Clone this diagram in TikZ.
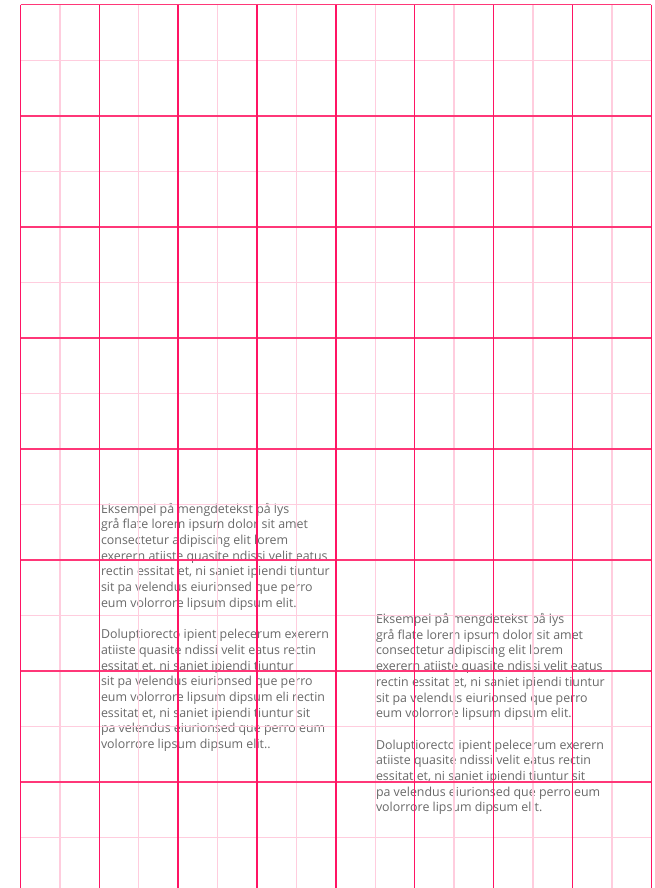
\documentclass[tikz,border=0pt]{standalone}
\usepackage{fontspec}
\setmainfont{Open Sans}
\definecolor{gridDark}{RGB}{255,20,100}
\definecolor{gridDarkH}{RGB}{255,55,120}
\definecolor{gridLight}{RGB}{255,205,222}
\definecolor{bodyGray}{RGB}{105,105,105}
\newcommand{\bodylines}[1]{\vtop{\baselineskip=15.7pt\relax #1}}
\newcommand{\txl}[1]{\hbox{#1}}
\begin{document}
\begin{tikzpicture}[x=1pt,y=-1pt,
  bodytext/.style={anchor=base west,inner sep=0pt,outer sep=0pt,text=bodyGray,font=\fontsize{12.4}{15.7}\selectfont},
  darkV/.style={draw=gridDark,line width=1.4pt},
  darkH/.style={draw=gridDarkH,line width=1.6pt},
  lightV/.style={draw=gridLight,line width=1.4pt},
  lightH/.style={draw=gridLight,line width=1.1pt}]
\useasboundingbox (0,0) rectangle (654,888);
% text blocks
\node[bodytext] (blockA) at (101,513) {\bodylines{%
\txl{Eksempel på mengdetekst på lys}
\txl{grå flate lorem ipsum dolor sit amet}
\txl{consectetur adipiscing elit lorem}
\txl{exerern atiiste quasite ndissi velit eatus}
\txl{rectin essitat et, ni saniet ipiendi tiuntur}
\txl{sit pa velendus eiurionsed que perro}
\txl{eum volorrore lipsum dipsum elit.}
\txl{}
\txl{Doluptiorecto ipient pelecerum exerern}
\txl{atiiste quasite ndissi velit eatus rectin}
\txl{essitat et, ni saniet ipiendi tiuntur}
\txl{sit pa velendus eiurionsed que perro}
\txl{eum volorrore lipsum dipsum eli rectin}
\txl{essitat et, ni saniet ipiendi tiuntur sit}
\txl{pa velendus eiurionsed que perro eum}
\txl{volorrore lipsum dipsum elit..}}};
\node[bodytext] (blockB) at (376,623.5) {\bodylines{%
\txl{Eksempel på mengdetekst på lys}
\txl{grå flate lorem ipsum dolor sit amet}
\txl{consectetur adipiscing elit lorem}
\txl{exerern atiiste quasite ndissi velit eatus}
\txl{rectin essitat et, ni saniet ipiendi tiuntur}
\txl{sit pa velendus eiurionsed que perro}
\txl{eum volorrore lipsum dipsum elit.}
\txl{}
\txl{Doluptiorecto ipient pelecerum exerern}
\txl{atiiste quasite ndissi velit eatus rectin}
\txl{essitat et, ni saniet ipiendi tiuntur sit}
\txl{pa velendus eiurionsed que perro eum}
\txl{volorrore lipsum dipsum elit.}}};
% light grid lines
\foreach \i in {1,3,...,15} {\draw[lightV] ({20.5+\i*39.42},4.7) -- ({20.5+\i*39.42},888);}
\foreach \j in {1,3,...,15} {\draw[lightH] (20.5,{4.7+\j*55.52}) -- (651,{4.7+\j*55.52});}
% dark grid lines
\foreach \j in {0,2,...,14} {\draw[darkH] (20.5,{4.7+\j*55.52}) -- (651,{4.7+\j*55.52});}
\foreach \i in {0,2,...,16} {\draw[darkV] ({20.5+\i*39.42},4.7) -- ({20.5+\i*39.42},888);}
\end{tikzpicture}
\end{document}
